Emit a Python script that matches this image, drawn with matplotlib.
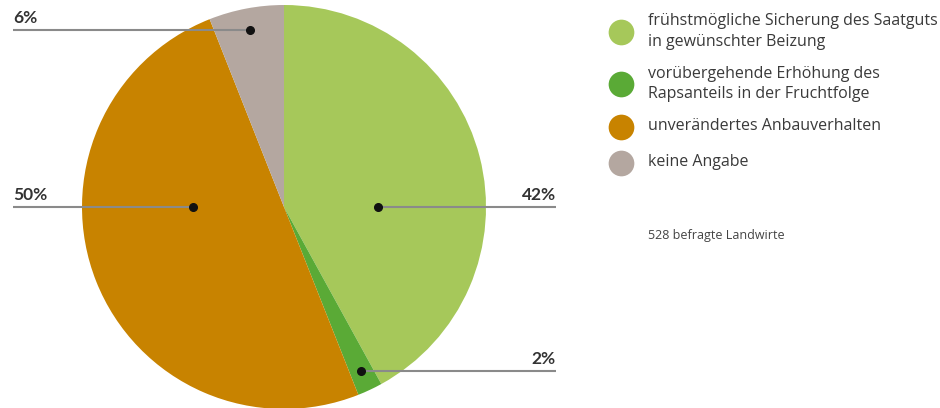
import numpy as np
import matplotlib
matplotlib.use("Agg")
import matplotlib.pyplot as plt

# Survey answers (share of respondents, %)
categories = [
    "frühstmögliche Sicherung des Saatguts\nin gewünschter Beizung",
    "vorübergehende Erhöhung des\nRapsanteils in der Fruchtfolge",
    "unverändertes Anbauverhalten",
    "keine Angabe",
]
values = [42, 2, 50, 6]
value_labels = ["42%", "2%", "50%", "6%"]
colors = ["#A6C85A", "#5AAA36", "#C88300", "#B4A7A0"]
note = "528 befragte Landwirte"

plt.rcParams["font.family"] = ["Open Sans", "DejaVu Sans"]

W, H = 940, 408
fig = plt.figure(figsize=(W / 100, H / 100), dpi=100)
ax = fig.add_axes([0, 0, 1, 1])


def Y(py):
    """Convert a top-down pixel row to the axis' y coordinate."""
    return H - py


cx, cy, R = 284, Y(207), 202
wedges, _ = ax.pie(values, colors=colors, startangle=90, counterclock=False,
                   center=(cx, cy), radius=R,
                   wedgeprops=dict(linewidth=0))
ax.set_xlim(0, W)
ax.set_ylim(0, H)
ax.set_aspect("equal")
ax.axis("off")

# leader lines: (radius fraction, side, end x, anchor angle); None = slice middle
leader_layout = [
    (0.465, "right", 556, 0.0),
    (0.895, "right", 556, None),
    (0.45, "left", 13, 180.0),
    (0.89, "left", 13, None),
]
for w, lab, (frac, side, xend, ang) in zip(wedges, value_labels, leader_layout):
    if ang is None:
        ang = (w.theta1 + w.theta2) / 2
    a = np.deg2rad(ang)
    px = cx + frac * R * np.cos(a)
    py = cy + frac * R * np.sin(a)
    ax.plot([px, xend], [py, py], color="#8a8a8a", lw=1.5,
            solid_capstyle="butt", zorder=3)
    ax.plot(px, py, "o", color="#111111", ms=5.5, zorder=4)
    ax.text(xend, py + 4, lab, ha="right" if side == "right" else "left",
            va="bottom", fontsize=12.5, fontweight="bold", color="#333333",
            family=["Lato", "DejaVu Sans"])

# legend
legend_rows = [31.5, 84, 126.5, 162.5]
for c, lab, ry in zip(colors, categories, legend_rows):
    ax.plot(621, Y(ry), "o", color=c, ms=18.5, mec="none")
    ax.text(648, Y(ry), lab, ha="left", va="center", fontsize=11.5,
            color="#3a3a3a", linespacing=1.4)

ax.text(648, Y(236), note, ha="left", va="center", fontsize=9,
        color="#444444")

fig.savefig("out.png", dpi=100)
